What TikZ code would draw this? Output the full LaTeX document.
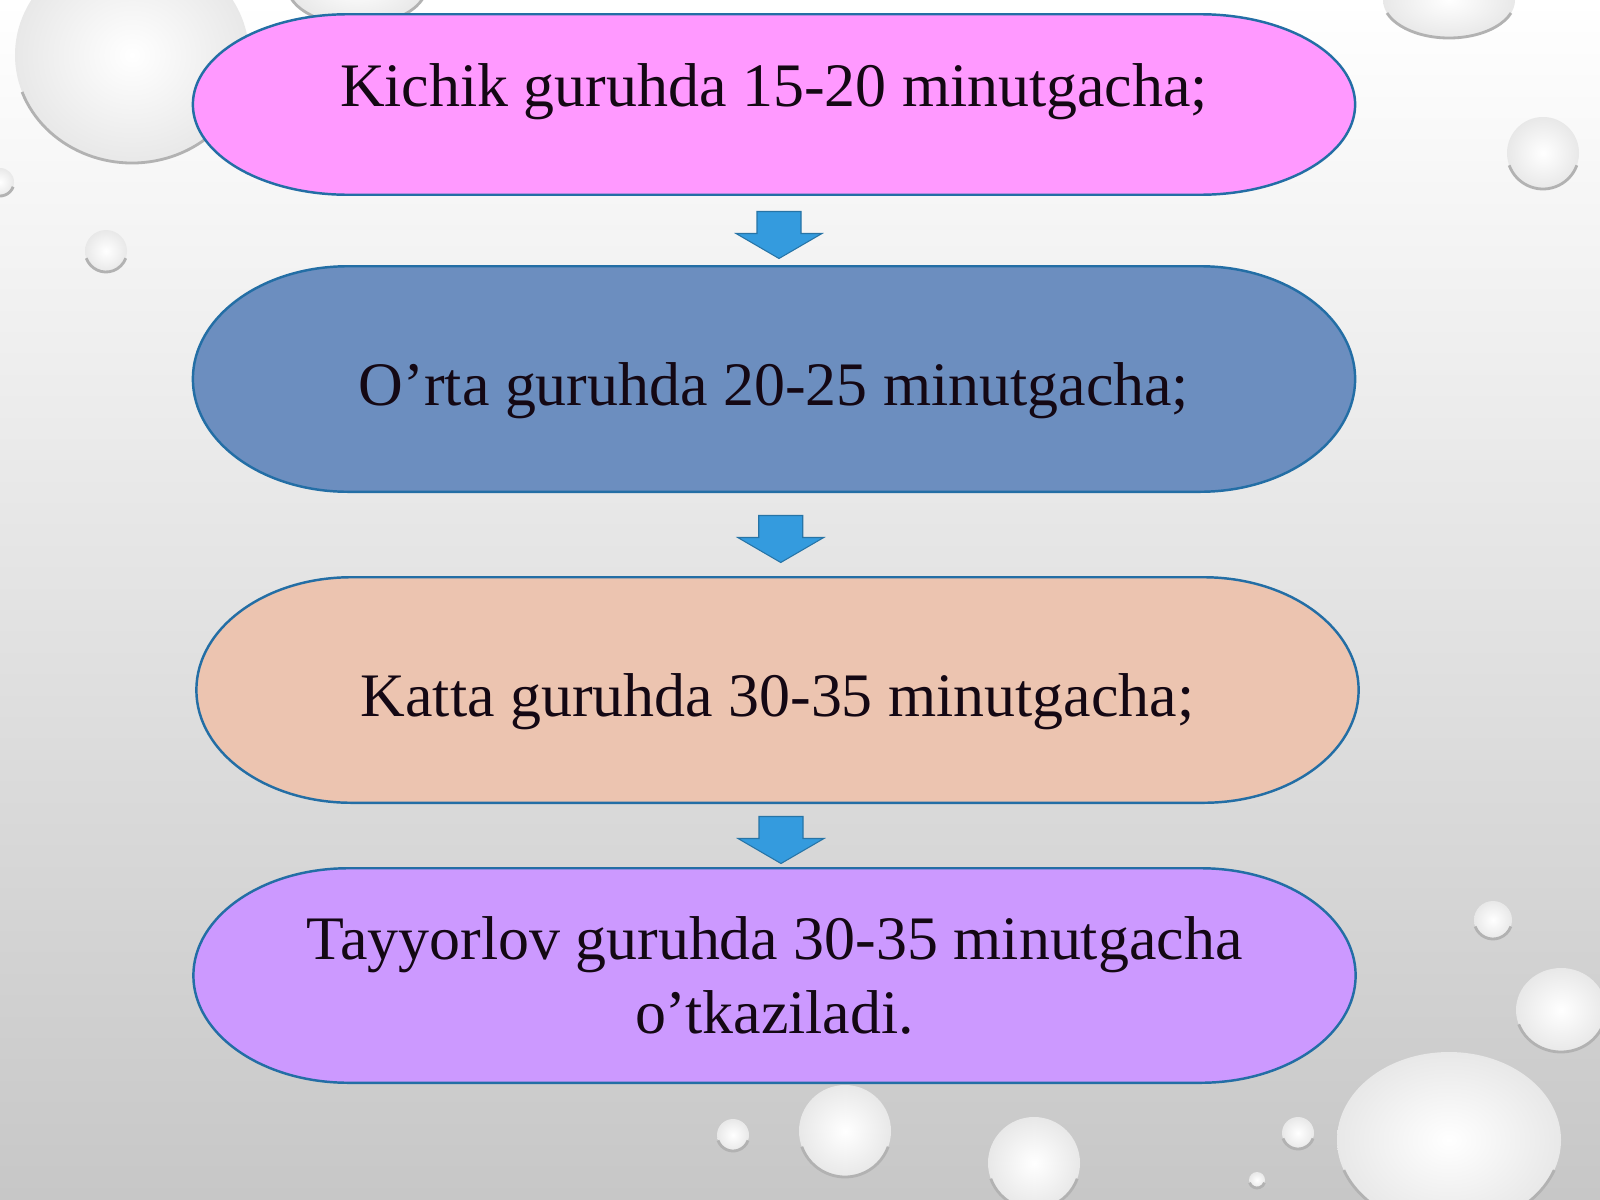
\documentclass[tikz,border=0pt]{standalone}
\usepackage{fontspec}
\setmainfont{Liberation Serif}
\usetikzlibrary{calc}
\pgfdeclarelayer{back}
\pgfdeclarelayer{pills}
\pgfsetlayers{back,pills,main}

\definecolor{pinkfill}{RGB}{255,153,255}
\definecolor{bluefill}{RGB}{108,142,191}
\definecolor{peachfill}{RGB}{236,196,176}
\definecolor{lilacfill}{RGB}{204,153,255}
\definecolor{rimblue}{RGB}{35,110,165}
\definecolor{arrowblue}{RGB}{52,155,222}
\definecolor{inkcol}{RGB}{20,8,20}

\tikzset{
  pillbox/.style={minimum width=11.6cm, inner sep=0pt, text=inkcol,
    font=\fontsize{17.6}{21}\selectfont, align=center},
  pillrim/.style={draw=rimblue, line width=0.7pt, fill=#1},
  blockarrow/.style={fill=arrowblue, draw=arrowblue!75!black, line width=0.3pt},
  drop/.style={inner color=white, outer color=black!9},
}

% rounded box behind a node
\newcommand{\pill}[2]{%
  \begin{pgfonlayer}{pills}
  \path[pillrim=#2] let \p1=(#1.north), \p2=(#1.south), \n1={(\y1-\y2)/2} in
    ($(#1.north west)+(155,0)$) -- ($(#1.north east)+(-155,0)$)
    arc[start angle=90, end angle=-90, x radius=1.55cm, y radius=\n1]
    -- ($(#1.south west)+(155,0)$)
    arc[start angle=270, end angle=90, x radius=1.55cm, y radius=\n1] -- cycle;
  \end{pgfonlayer}}

% fat arrow between two boxes
\newcommand{\blockdown}[2]{%
  \coordinate (m) at ($(#1.south)!.5!(#2.north)+(5,-4)$);
  \draw[blockarrow] ($(m)+(-22,23)$) -- ($(m)+(22,23)$) -- ($(m)+(22,1)$)
    -- ($(m)+(43,1)$) -- ($(m)+(0,-24)$) -- ($(m)+(-43,1)$)
    -- ($(m)+(-22,1)$) -- cycle;}

\begin{document}
\begin{tikzpicture}[x=0.01cm, y=0.01cm]
\useasboundingbox (0,0) rectangle (1600,-1200);

\begin{pgfonlayer}{back}
\clip (0,0) rectangle (1600,-1200);
\shade[top color=white, middle color=black!5, bottom color=black!22] (0,0) rectangle (1600,-1200);
\foreach \dx/\dy/\rx/\ry in {132/55/117/108, 357/-15/70/40, 0/182/14/14, 106/251/21/21,
    1449/0/66/38, 1543/153/36/36, 1493/920/19/19, 1561/1010/45/42, 733/1135/16/16,
    845/1131/46/46, 1034/1163/46/46, 1257/1180/8/8, 1298/1133/16/16, 1449/1140/112/88}{
  \shade[drop] (\dx,-\dy) ellipse[x radius=\rx, y radius=\ry];
  \draw[black!30, line width=0.8pt] ($(\dx,-\dy)+({\rx*cos(200)},{\ry*sin(200)})$)
    arc[start angle=200, end angle=340, x radius=\rx, y radius=\ry];
}
\end{pgfonlayer}

\node[pillbox, minimum height=1.79cm, text height=0.42cm, text depth=0.39cm] (kichik) at (774,-104.5) {Kichik guruhda 15-20 minutgacha;};
\node[pillbox, minimum height=2.24cm, text height=0.665cm, text depth=0.135cm] (orta) at (774,-379) {O’rta guruhda 20-25 minutgacha;};
\node[pillbox, minimum height=2.24cm, text height=0.665cm, text depth=0.135cm] (katta) at (777.5,-690) {Katta guruhda 30-35 minutgacha;};
\node[pillbox, minimum height=2.13cm] (tayyor) at (774.5,-975.5) {Tayyorlov guruhda 30-35 minutgacha\\ o’tkaziladi.};

\pill{kichik}{pinkfill}
\pill{orta}{bluefill}
\pill{katta}{peachfill}
\pill{tayyor}{lilacfill}

\blockdown{kichik}{orta}
\blockdown{orta}{katta}
\blockdown{katta}{tayyor}
\end{tikzpicture}
\end{document}
